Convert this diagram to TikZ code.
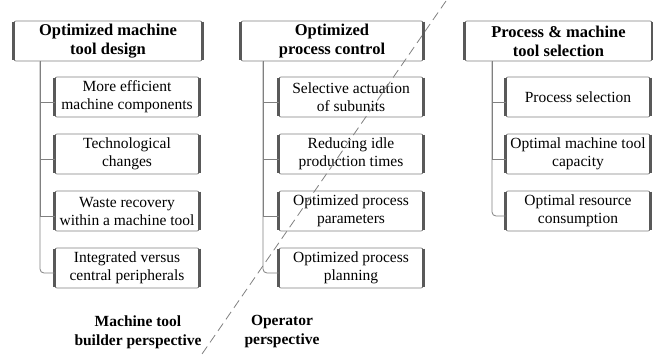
\documentclass[tikz,border=0pt]{standalone}
\usepackage{fontspec}
\setmainfont{Liberation Serif}
\begin{document}
\begin{tikzpicture}[x=1pt,y=1pt]
\tikzstyle{every node}+=[inner sep=0pt]
\tikzstyle{head}=[draw=black!50,line width=0.7pt,rounded corners=2pt,minimum height=40pt,align=center,font=\fontsize{16.5}{19}\selectfont\bfseries]
\tikzstyle{item}=[draw=black!50,line width=0.7pt,rounded corners=2pt,minimum width=144pt,minimum height=40pt,align=center,font=\fontsize{15.5}{18}\selectfont]
\tikzstyle{side}=[black!65,line width=2.4pt]
\tikzstyle{link}=[gray,line width=0.8pt]
\tikzstyle{divider}=[gray,line width=0.8pt,dash pattern=on 9pt off 5pt]
\tikzstyle{persp}=[align=center,font=\fontsize{15.5}{19}\selectfont\bfseries]
\useasboundingbox (0,0) rectangle (653,-354);
\draw[white] (0,0) rectangle (653,-354);
\node[head,minimum width=188pt] (design) at (108,-41) {Optimized machine\\tool design};
\node[head,minimum width=182pt] (control) at (332,-41) {Optimized\\process control};
\node[head,minimum width=187pt] (selection) at (558.5,-41) {Process \& machine\\tool selection};
\node[item] (comp) at (127,-97) {More efficient\\machine components};
\node[item] (tech) at (127,-154) {Technological\\changes};
\node[item] (waste) at (127,-211) {Waste recovery\\within a machine tool};
\node[item] (periph) at (127,-268) {Integrated versus\\central peripherals};
\node[item] (actuation) at (351,-97) {Selective actuation\\of subunits};
\node[item] (idle) at (351,-154) {Reducing idle\\production times};
\node[item] (params) at (351,-211) {Optimized process\\parameters};
\node[item] (planning) at (351,-268) {Optimized process\\planning};
\node[item] (procsel) at (578,-97) {Process selection};
\node[item] (capacity) at (578,-154) {Optimal machine tool\\capacity};
\node[item] (resource) at (578,-211) {Optimal resource\\consumption};
\foreach \n in {design,control,selection,comp,tech,waste,periph,actuation,idle,params,planning,procsel,capacity,resource}
  \draw[side] ([yshift=-1pt]\n.north west) -- ([yshift=1pt]\n.south west)
              ([yshift=-1pt]\n.north east) -- ([yshift=1pt]\n.south east);
\coordinate (t1) at (40,0);
\coordinate (t2) at (263,0);
\coordinate (t3) at (492,0);
\foreach \n in {comp,tech,waste}
  \draw[link] (t1 |- design.south) |- ([yshift=-5pt]\n.west);
\draw[link,rounded corners=4pt] (t1 |- design.south) |- ([yshift=-5pt]periph.west);
\foreach \n in {actuation,idle,params}
  \draw[link] (t2 |- control.south) |- ([yshift=-5pt]\n.west);
\draw[link,rounded corners=4pt] (t2 |- control.south) |- ([yshift=-5pt]planning.west);
\foreach \n in {procsel,capacity}
  \draw[link] (t3 |- selection.south) |- ([yshift=-5pt]\n.west);
\draw[link,rounded corners=4pt] (t3 |- selection.south) |- ([yshift=-5pt]resource.west);
\coordinate (top) at (446,-1);
\coordinate (bot) at (202,-354);
\draw[divider] (top) -- (bot);
\node[persp] (builder) at (138,-332) {Machine tool\\builder perspective};
\node[persp] (operator) at (282,-332) {Operator\\perspective};
\end{tikzpicture}
\end{document}
